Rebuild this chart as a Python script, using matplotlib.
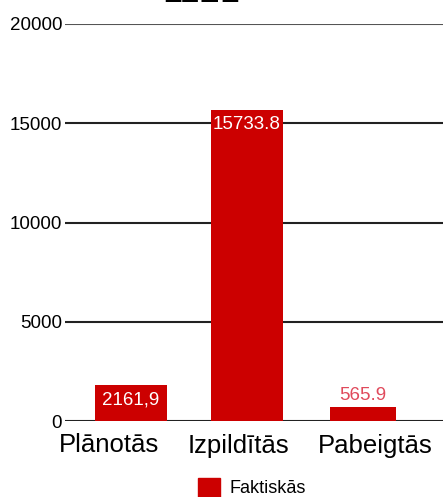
import numpy as np
import matplotlib.pyplot as plt
from matplotlib.patches import Patch

plt.rcParams['font.family'] = ['Liberation Sans', 'DejaVu Sans']

# data (bar heights as drawn in the picture, labels as printed)
categories = ['Plānotās', 'Izpildītās', 'Pabeigtās']
values = [1800, 15650, 700]
value_labels = ['2161,9', '15733.8', '565.9']
label_inside = [True, True, False]
series_name = 'Faktiskās'
yticks = [0, 5000, 10000, 15000, 20000]
title = '1121'

# category labels sit a little off the bar centres in the original
label_pos = [-0.19, 0.93, 2.11]
bar_widths = [0.62, 0.62, 0.57]

red = '#cc0000'

fig = plt.figure(figsize=(4.43, 4.97), dpi=100)
ax = fig.add_axes([65/443, 1-421/497, 1-65/443, (421-24)/497])

x = np.arange(len(categories))
bars = ax.bar(x, values, width=bar_widths, color=red, zorder=3)

# gridlines
for t in yticks:
    c = '#555555' if t == yticks[-1] else '#222222'
    ax.axhline(t, color=c, linewidth=1.5, zorder=1)

# value labels
for b, lab, inside in zip(bars, value_labels, label_inside):
    cx = b.get_x() + b.get_width()/2
    h = b.get_height()
    if inside:
        ax.annotate(lab, (cx, h), xytext=(0, -4.3), textcoords='offset points',
                    ha='center', va='top', color='white', fontsize=13.5, zorder=4)
    else:
        ax.annotate(lab, (cx, h), xytext=(0, 2.5), textcoords='offset points',
                    ha='center', va='bottom', color='#e04a5c', fontsize=13.5, zorder=4)

ax.set_xlim(-0.57, 2.69)
ax.set_ylim(0, 20000)
ax.set_yticks(yticks)
ax.set_yticklabels([str(t) for t in yticks], fontsize=13.5)
ax.set_xticks(label_pos)
ax.set_xticklabels(categories, fontsize=18.5)
ax.tick_params(axis='both', length=0)
ax.tick_params(axis='y', pad=2)
ax.tick_params(axis='x', pad=9)
for s in ax.spines.values():
    s.set_visible(False)

# title, mostly cut off by the top edge
fig.text(0.455, 1-2/497, title, ha='center', va='baseline', fontsize=26)

fig.legend(handles=[Patch(color=red, label=series_name)], loc='upper left',
           bbox_to_anchor=(189/443, 1-469/497), frameon=False, fontsize=13,
           handlelength=1.22, handleheight=1.22, handletextpad=0.55, borderpad=0)

fig.savefig('out.png', dpi=100)
